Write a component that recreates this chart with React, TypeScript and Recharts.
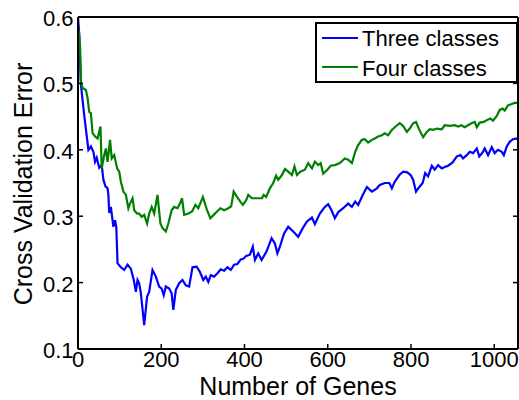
import { LineChart, Line, XAxis, YAxis, Legend } from "recharts";

const FONT = '"Liberation Sans", Arial, Helvetica, sans-serif';

const geneTicks = [0, 200, 400, 600, 800, 1000];
const errorTicks = [0.1, 0.2, 0.3, 0.4, 0.5, 0.6];

const threeGenes = [
  0, 3, 7, 15, 25, 31, 37, 41, 45, 51, 57, 61, 66, 71, 73, 75, 79, 85, 89, 92,
  95, 103, 111, 119, 127, 134, 139, 143, 147, 151, 159, 166, 171, 179, 187, 195, 201, 206, 211, 219,
  225, 229, 235, 243, 251, 259, 267, 275, 285, 293, 301, 307, 313, 319, 327, 335, 343, 351, 359, 367,
  375, 383, 391, 397, 404, 413, 420, 425, 433, 441, 453, 465, 473, 479, 485, 495, 505, 517, 529, 540,
  550, 562, 569, 581, 593, 601, 609, 617, 625, 637, 649, 658, 666, 673, 684, 694, 706, 718, 725, 737,
  748, 754, 761, 772, 781, 791, 799, 805, 812, 820, 828, 834, 841, 850, 857, 865, 874, 881, 889, 900,
  910, 919, 925, 934, 941, 949, 958, 964, 972, 977, 985, 994, 1001, 1009, 1018, 1023, 1030, 1037, 1045, 1053,
  1057,
];
const threeError = [
  0.6, 0.573, 0.498, 0.452, 0.4, 0.405, 0.397, 0.382, 0.388, 0.373, 0.377, 0.355, 0.345, 0.342, 0.332, 0.305, 0.314, 0.284, 0.294, 0.284,
  0.229, 0.223, 0.219, 0.227, 0.221, 0.204, 0.186, 0.204, 0.199, 0.184, 0.136, 0.179, 0.186, 0.219, 0.209, 0.194, 0.191, 0.181, 0.194, 0.191,
  0.184, 0.159, 0.189, 0.199, 0.204, 0.196, 0.194, 0.223, 0.224, 0.216, 0.204, 0.209, 0.201, 0.211, 0.209, 0.214, 0.22, 0.218, 0.223, 0.219,
  0.227, 0.228, 0.235, 0.236, 0.24, 0.242, 0.254, 0.234, 0.244, 0.234, 0.247, 0.267, 0.259, 0.244, 0.254, 0.274, 0.284, 0.277, 0.269, 0.282,
  0.292, 0.298, 0.288, 0.304, 0.314, 0.318, 0.309, 0.297, 0.306, 0.312, 0.319, 0.314, 0.322, 0.317, 0.332, 0.344, 0.337, 0.342, 0.347, 0.35,
  0.35, 0.342, 0.352, 0.362, 0.367, 0.366, 0.362, 0.355, 0.337, 0.344, 0.35, 0.365, 0.36, 0.376, 0.37, 0.377, 0.372, 0.374, 0.376, 0.381,
  0.39, 0.392, 0.387, 0.392, 0.397, 0.395, 0.402, 0.39, 0.396, 0.402, 0.392, 0.404, 0.395, 0.4, 0.397, 0.392, 0.405, 0.412, 0.416, 0.417,
  0.415,
];

const fourGenes = [
  2, 5, 7, 11, 19, 23, 27, 31, 35, 41, 47, 54, 57, 63, 67, 71, 77, 81, 87, 94,
  99, 103, 109, 115, 121, 125, 131, 135, 142, 147, 153, 159, 166, 171, 177, 183, 191, 198, 203, 211,
  217, 225, 231, 239, 245, 250, 255, 265, 274, 282, 289, 300, 310, 318, 326, 334, 342, 351, 361, 368,
  374, 382, 390, 396, 404, 409, 418, 430, 442, 446, 452, 461, 469, 476, 481, 490, 497, 505, 514, 520,
  526, 534, 545, 553, 562, 569, 577, 583, 589, 599, 607, 617, 629, 641, 649, 658, 666, 673, 682, 689,
  697, 706, 713, 721, 730, 737, 745, 754, 761, 773, 781, 790, 797, 805, 812, 820, 829, 838, 845, 853,
  862, 874, 881, 893, 905, 913, 921, 929, 937, 945, 953, 958, 965, 975, 983, 991, 997, 1006, 1013, 1020,
  1025, 1033, 1042, 1050, 1057,
];
const fourError = [
  0.58, 0.555, 0.503, 0.493, 0.49, 0.478, 0.457, 0.455, 0.425, 0.42, 0.417, 0.435, 0.372, 0.392, 0.402, 0.382, 0.415, 0.387, 0.392, 0.372,
  0.367, 0.352, 0.337, 0.332, 0.312, 0.319, 0.327, 0.309, 0.304, 0.304, 0.299, 0.302, 0.289, 0.304, 0.314, 0.304, 0.332, 0.289, 0.282, 0.277,
  0.289, 0.309, 0.314, 0.312, 0.319, 0.327, 0.302, 0.304, 0.307, 0.317, 0.312, 0.329, 0.309, 0.297, 0.302, 0.307, 0.312, 0.309, 0.312, 0.315,
  0.337, 0.329, 0.322, 0.317, 0.324, 0.332, 0.327, 0.327, 0.327, 0.332, 0.329, 0.342, 0.35, 0.361, 0.355, 0.362, 0.371, 0.367, 0.362, 0.375,
  0.362, 0.367, 0.37, 0.38, 0.372, 0.382, 0.377, 0.38, 0.364, 0.37, 0.376, 0.377, 0.38, 0.387, 0.385, 0.38, 0.397, 0.407, 0.415, 0.416,
  0.411, 0.415, 0.417, 0.42, 0.422, 0.425, 0.422, 0.43, 0.434, 0.44, 0.436, 0.427, 0.432, 0.44, 0.442, 0.43, 0.419, 0.427, 0.431, 0.43,
  0.432, 0.431, 0.437, 0.436, 0.437, 0.435, 0.437, 0.434, 0.437, 0.44, 0.442, 0.434, 0.441, 0.442, 0.445, 0.447, 0.444, 0.451, 0.46, 0.462,
  0.459, 0.467, 0.469, 0.471, 0.47,
];

const series = [
  { name: "Three classes", color: "#0000ff", genes: threeGenes, error: threeError },
  { name: "Four classes", color: "#008000", genes: fourGenes, error: fourError },
];

function XTick({ x, y, payload }: any) {
  return (
    <text x={x} y={y + 23} textAnchor="middle" fontSize={22} fontFamily={FONT} fill="#000">
      {payload.value}
    </text>
  );
}

function YTick({ x, y, payload }: any) {
  return (
    <text x={x} y={y + 9} textAnchor="end" fontSize={22} fontFamily={FONT} fill="#000">
      {payload.value.toFixed(1)}
    </text>
  );
}

const NoLabel = () => <g />;

function LegendBox() {
  return (
    <svg width={203} height={61}>
      <rect x={1} y={1} width={201} height={59} fill="#fff" stroke="#000" strokeWidth={2} />
      {series.map((s, i) => (
        <g key={s.name}>
          <line x1={7} x2={43} y1={16 + i * 29} y2={16 + i * 29} stroke={s.color} strokeWidth={2.2} />
          <text x={47} y={24 + i * 29.5} fontSize={22} fontFamily={FONT} fill="#000">
            {s.name}
          </text>
        </g>
      ))}
    </svg>
  );
}

export default function App() {
  return (
    <div style={{ position: "absolute", left: 0, top: 0, background: "#fff" }}>
      <LineChart width={519} height={400} margin={{ top: 0, right: 0, bottom: 0, left: 0 }}>
        <XAxis
          xAxisId="bottom"
          dataKey="g"
          type="number"
          domain={[0, 1057]}
          ticks={geneTicks}
          allowDataOverflow
          height={51}
          tickSize={-5}
          tickMargin={0}
          tick={<XTick />}
          stroke="#000"
          axisLine={{ stroke: "#000", strokeWidth: 2 }}
          tickLine={{ stroke: "#000", strokeWidth: 1.5 }}
          label={{
            content: ({ viewBox }: any) => (
              <text
                x={viewBox.x + viewBox.width / 2}
                y={viewBox.y + 46}
                textAnchor="middle"
                fontSize={25}
                fontFamily={FONT}
                fill="#000"
              >
                Number of Genes
              </text>
            ),
          }}
        />
        <XAxis
          xAxisId="top"
          orientation="top"
          type="number"
          domain={[0, 1057]}
          ticks={geneTicks}
          allowDataOverflow
          height={17}
          tickSize={-5}
          tick={NoLabel}
          axisLine={{ stroke: "#000", strokeWidth: 2 }}
          tickLine={{ stroke: "#000", strokeWidth: 1.5 }}
        />
        <YAxis
          yAxisId="left"
          type="number"
          domain={[0.1, 0.6]}
          ticks={errorTicks}
          allowDataOverflow
          width={78}
          tickSize={-5}
          tickMargin={9.5}
          tick={<YTick />}
          axisLine={{ stroke: "#000", strokeWidth: 2 }}
          tickLine={{ stroke: "#000", strokeWidth: 1.5 }}
          label={{
            content: ({ viewBox }: any) => (
              <text
                x={31.5}
                y={viewBox.y + viewBox.height / 2 + 1}
                transform={`rotate(-90 31.5 ${viewBox.y + viewBox.height / 2 + 1})`}
                textAnchor="middle"
                fontSize={25}
                fontFamily={FONT}
                fill="#000"
              >
                Cross Validation Error
              </text>
            ),
          }}
        />
        <YAxis
          yAxisId="right"
          orientation="right"
          type="number"
          domain={[0.1, 0.6]}
          ticks={errorTicks}
          allowDataOverflow
          width={1}
          tickSize={-5}
          tick={NoLabel}
          axisLine={{ stroke: "#000", strokeWidth: 2 }}
          tickLine={{ stroke: "#000", strokeWidth: 1.5 }}
        />
        {series.map((s) => (
          <Line
            key={s.name}
            xAxisId="bottom"
            yAxisId="left"
            data={s.genes.map((g, i) => ({ g, err: s.error[i] }))}
            dataKey="err"
            name={s.name}
            stroke={s.color}
            strokeWidth={2.2}
            dot={false}
            type="linear"
            isAnimationActive={false}
          />
        ))}
        <Legend
          layout="vertical"
          align="center"
          verticalAlign="middle"
          content={<LegendBox />}
          wrapperStyle={{ left: 315, top: 22, width: 203, height: 61 }}
        />
      </LineChart>
    </div>
  );
}
